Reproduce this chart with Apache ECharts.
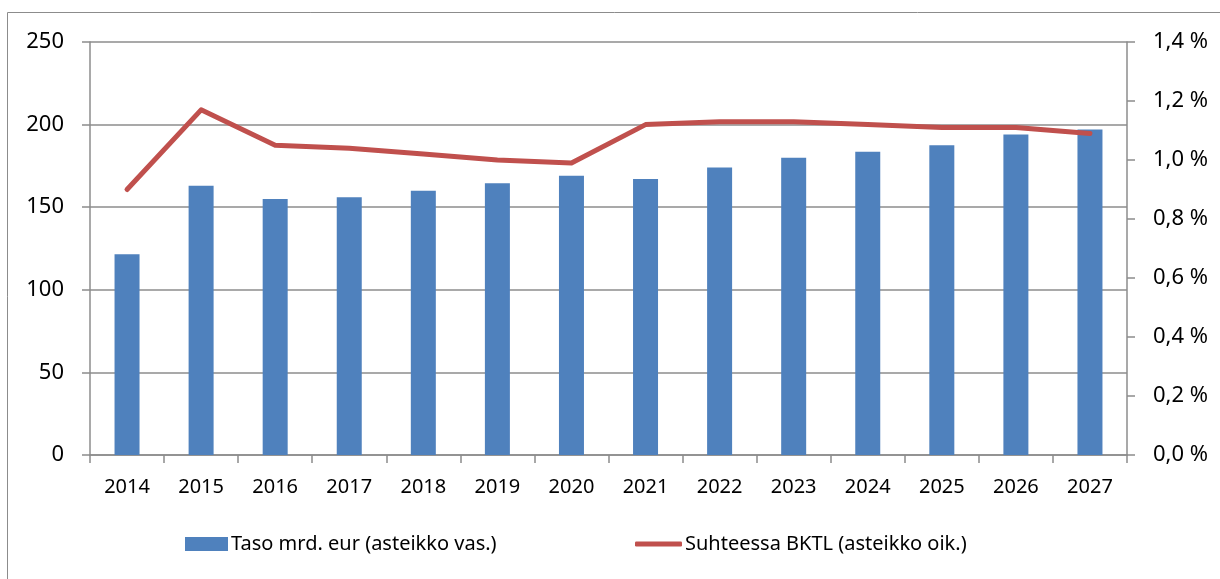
<!DOCTYPE html>
<html style="height: 100%">
<head>
    <meta charset="UTF-8">
    <script type="text/javascript" src="https://cdn.jsdelivr.net/npm/echarts@6/dist/echarts.min.js"></script>
</head>
<body style="height: 100%; margin: 0; background: #fff">
    <div id="container" style="width: 1220px; height: 579px;"></div>
    <script type="text/javascript">
        var years = ['2014', '2015', '2016', '2017', '2018', '2019', '2020',
                     '2021', '2022', '2023', '2024', '2025', '2026', '2027'];
        var tasoMrd = [121.5, 163, 155, 156, 160, 164.5, 169, 167, 174, 180, 183.5, 187.5, 194, 197];
        var suhteessaBktl = [0.90, 1.17, 1.05, 1.04, 1.02, 1.00, 0.99, 1.12, 1.13, 1.13, 1.12, 1.11, 1.11, 1.09];
        var barName = 'Taso mrd. eur (asteikko vas.)';
        var lineName = 'Suhteessa BKTL (asteikko oik.)';

        var font = 'Noto Sans';
        var axisGray = '#8c8c8c';

        var myChart = echarts.init(document.getElementById('container'));
        var option = {
            animation: false,
            backgroundColor: '#fff',
            textStyle: { fontFamily: font, color: '#000' },
            graphic: [{
                type: 'rect',
                shape: { x: 7.5, y: 12.5, width: 1400, height: 800 },
                style: { fill: 'none', stroke: axisGray, lineWidth: 1 },
                silent: true
            }],
            grid: { left: 90, right: 93, top: 42, bottom: 124 },
            legend: [{
                data: [barName],
                left: 185, top: 534, padding: 0,
                icon: 'rect', itemWidth: 43, itemHeight: 14, itemGap: 0,
                textStyle: { fontFamily: font, fontSize: 20, color: '#000', padding: [0, 0, 0, -2] }
            }, {
                data: [lineName],
                left: 635, top: 534, padding: 0,
                icon: 'roundRect', itemWidth: 47, itemHeight: 5, itemGap: 0,
                textStyle: { fontFamily: font, fontSize: 20, color: '#000', padding: [0, 0, 0, -2] }
            }],
            xAxis: {
                type: 'category',
                data: years,
                boundaryGap: true,
                axisLine: { lineStyle: { color: axisGray, width: 1.5 } },
                axisTick: { show: true, length: 8, alignWithLabel: false, lineStyle: { color: axisGray, width: 1.5 } },
                axisLabel: { fontSize: 20, color: '#000', margin: 22, fontFamily: font }
            },
            yAxis: [{
                type: 'value',
                min: 0, max: 250, interval: 50,
                axisLine: { show: true, lineStyle: { color: axisGray, width: 1.5 } },
                axisTick: { show: true, length: 8, lineStyle: { color: axisGray, width: 1.5 } },
                splitLine: { show: true, lineStyle: { color: axisGray, width: 1.5 } },
                axisLabel: { fontSize: 22, color: '#000', margin: 26, fontFamily: font }
            }, {
                type: 'value',
                min: 0, max: 1.4, interval: 0.2,
                position: 'right',
                axisLine: { show: true, lineStyle: { color: axisGray, width: 1.5 } },
                axisTick: { show: true, length: 8, lineStyle: { color: axisGray, width: 1.5 } },
                splitLine: { show: false },
                axisLabel: {
                    fontSize: 22, color: '#000', margin: 26, fontFamily: font,
                    formatter: function (v) { return v.toFixed(1).replace('.', ',') + ' %'; }
                }
            }],
            series: [{
                name: barName,
                type: 'bar',
                data: tasoMrd,
                barWidth: 25,
                itemStyle: { color: '#4f81bd' }
            }, {
                name: lineName,
                type: 'line',
                yAxisIndex: 1,
                data: suhteessaBktl,
                showSymbol: false,
                symbol: 'none',
                lineStyle: { color: '#c0504d', width: 5, cap: 'round', join: 'round' },
                itemStyle: { color: '#c0504d' }
            }]
        };
        myChart.setOption(option, true);
    </script>
</body>
</html>
